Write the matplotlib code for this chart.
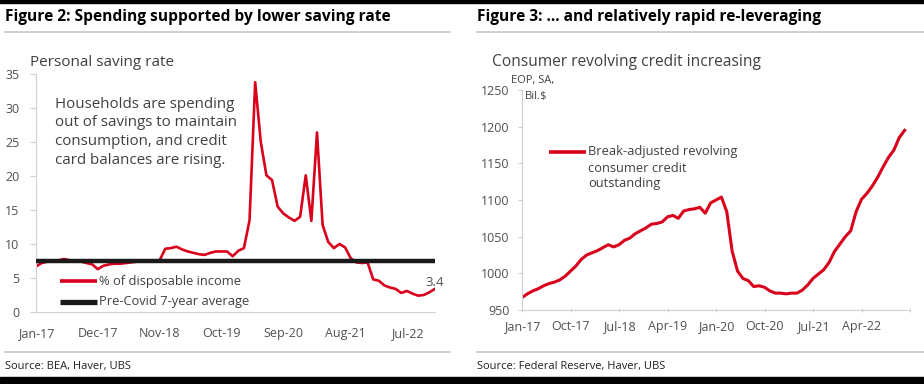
import matplotlib
matplotlib.use("Agg")
import matplotlib.pyplot as plt
from matplotlib.lines import Line2D

plt.rcParams['font.family'] = ['Open Sans', 'DejaVu Sans']

# ---------------- data ----------------
# Figure 2: personal saving rate, monthly Jan-17 .. Dec-22 (% of disposable income)
saving_rate = [6.7, 7.2, 7.4, 7.5, 7.6, 7.8, 7.6, 7.5, 7.4, 7.2, 7.0, 6.3,
               6.8, 7.0, 7.1, 7.1, 7.2, 7.3, 7.4, 7.5, 7.4, 7.5, 7.6, 9.3,
               9.4, 9.6, 9.2, 8.9, 8.7, 8.5, 8.4, 8.7, 8.9, 8.9, 8.9, 8.2,
               9.0, 9.4, 13.5, 33.8, 25.0, 20.1, 19.4, 15.5, 14.5, 13.9, 13.4, 14.0,
               20.1, 13.4, 26.4, 12.8, 10.3, 9.4, 10.0, 9.5, 7.9, 7.3, 7.2, 7.3,
               4.8, 4.6, 3.9, 3.6, 3.4, 2.8, 3.1, 2.7, 2.4, 2.5, 2.9, 3.4]
pre_covid_avg = 7.5
left_ticks = [0, 11, 22, 33, 44, 55, 66]
left_tick_labels = ["Jan-17", "Dec-17", "Nov-18", "Oct-19", "Sep-20", "Aug-21", "Jul-22"]
left_yticks = [0, 5, 10, 15, 20, 25, 30, 35]
left_legend = ["% of disposable income", "Pre-Covid 7-year average"]
last_label = "3.4"

# Figure 3: revolving consumer credit, monthly Jan-17 .. Dec-22 (Bil. $)
revolving_credit = [967, 972, 976, 979, 983, 986, 988, 991, 996, 1003, 1010, 1019,
                    1025, 1028, 1031, 1035, 1039, 1036, 1039, 1045, 1048, 1054, 1058, 1062,
                    1067, 1068, 1070, 1077, 1079, 1075, 1085, 1087, 1088, 1090, 1082, 1096,
                    1100, 1104, 1084, 1030, 1003, 993, 990, 982, 983, 981, 976, 973,
                    973, 972, 973, 973, 977, 984, 993, 999, 1005, 1015, 1030, 1040,
                    1050, 1058, 1084, 1101, 1109, 1119, 1131, 1145, 1158, 1168, 1185, 1195]
right_ticks = [0, 9, 18, 27, 36, 45, 54, 63, 72]
right_tick_labels = ["Jan-17", "Oct-17", "Jul-18", "Apr-19", "Jan-20", "Oct-20", "Jul-21", "Apr-22", ""]
right_yticks = [950, 1000, 1050, 1100, 1150, 1200, 1250]
right_legend = ["Break-adjusted revolving", "consumer credit", "outstanding"]

RED = "#D9001C"
BLACK = "#1A1A1A"
TXT = "#404040"
TICK = "#505050"
GRID = "#D0D0D0"

W, H = 924, 384
fig = plt.figure(figsize=(W / 100, H / 100), dpi=100)
fig.patch.set_facecolor("white")

def px(x0, y0, x1, y1):
    return [x0 / W, 1 - y1 / H, (x1 - x0) / W, (y1 - y0) / H]

def style_axes(ax):
    for s in ["top", "right"]:
        ax.spines[s].set_visible(False)
    for s in ["left", "bottom"]:
        ax.spines[s].set_color(GRID)
        ax.spines[s].set_linewidth(0.8)
    ax.tick_params(axis="both", colors=GRID, labelcolor=TICK, labelsize=9, length=4, width=0.8)

# ---------- left panel ----------
L = (36, 74, 435, 312)
axL = fig.add_axes(px(*L))
style_axes(axL)
months = list(range(len(saving_rate)))
axL.plot(months, saving_rate, color=RED, lw=1.9, zorder=2, solid_joinstyle="round")
axL.plot(months, [pre_covid_avg] * len(months), color=BLACK, lw=3.2, zorder=3)
axL.set_xlim(0, len(months) - 1)
axL.set_ylim(0, 35)
axL.set_yticks(left_yticks)
axL.set_xticks(left_ticks)
axL.set_xticklabels(left_tick_labels)
axL.tick_params(axis="x", length=0, pad=11)
axL.tick_params(axis="y", pad=8)
axL.annotate(last_label, (months[-1], saving_rate[-1]), xytext=(0, 4.5),
             textcoords="offset points", ha="center", va="center", fontsize=9.5, color=TICK)
axL.text(0.048, 0.905, "Households are spending\nout of savings to maintain\nconsumption, and credit\ncard balances are rising.",
         transform=axL.transAxes, ha="left", va="top", fontsize=10.9, color=TXT, linespacing=1.33)

def ax_frac(ax_box, x, y):
    x0, y0, x1, y1 = ax_box
    return (x - x0) / (x1 - x0), (y1 - y) / (y1 - y0)

for lbl, col, lw, ypix in [(left_legend[0], RED, 2.6, 281), (left_legend[1], BLACK, 3.8, 302)]:
    xa, ya = ax_frac(L, 60, ypix)
    xb, _ = ax_frac(L, 97, ypix)
    xt, _ = ax_frac(L, 99, ypix)
    axL.add_line(Line2D([xa, xb], [ya, ya], transform=axL.transAxes, color=col, lw=lw,
                        clip_on=False, solid_capstyle="butt"))
    axL.text(xt, ya, lbl, transform=axL.transAxes, ha="left", va="center", fontsize=9.3, color=TXT)

# ---------- right panel ----------
R = (522, 90, 910, 310)
axR = fig.add_axes(px(*R))
style_axes(axR)
mR = list(range(len(revolving_credit)))
axR.plot(mR, revolving_credit, color=RED, lw=2.2, solid_joinstyle="round")
axR.set_xlim(0, 72)
axR.set_ylim(950, 1250)
axR.set_yticks(right_yticks)
axR.set_xticks(right_ticks)
axR.set_xticklabels(right_tick_labels)
axR.tick_params(axis="x", length=3, pad=6, direction="inout")
axR.tick_params(axis="y", pad=6, length=3)

xa, ya = ax_frac(R, 549, 152)
xb, _ = ax_frac(R, 586, 152)
axR.add_line(Line2D([xa, xb], [ya, ya], transform=axR.transAxes, color=RED, lw=2.6,
                    clip_on=False, solid_capstyle="butt"))
for i, lbl in enumerate(right_legend):
    xt, yt = ax_frac(R, 588, 152 + 16 * i)
    axR.text(xt, yt, lbl, transform=axR.transAxes, ha="left", va="center", fontsize=9.3, color=TXT)

# ---------- titles, rules, sources ----------
fig.text(5 / W, 1 - 17 / H, "Figure 2: Spending supported by lower saving rate",
         fontsize=11.2, fontweight="bold", color="#000000", ha="left", va="center")
fig.text(477 / W, 1 - 17 / H, "Figure 3: \u2026 and relatively rapid re-leveraging",
         fontsize=11.2, fontweight="bold", color="#000000", ha="left", va="center")
fig.text(30 / W, 1 - 62 / H, "Personal saving rate", fontsize=11, color=TXT, ha="left", va="center")
fig.text(492 / W, 1 - 62 / H, "Consumer revolving credit increasing", fontsize=11.2, color=TXT, ha="left", va="center")
fig.text(533 / W, 1 - 80 / H, "EOP, SA,", fontsize=8, color=TXT, ha="center", va="center")
fig.text(536 / W, 1 - 96 / H, "Bil.$", fontsize=8, color=TXT, ha="center", va="center")

for (x0, x1) in [(5, 450), (477, 924)]:
    fig.add_artist(Line2D([x0 / W, x1 / W], [1 - 32 / H] * 2, color="#C8C8C8", lw=1.2))
    fig.add_artist(Line2D([x0 / W, x1 / W], [1 - 352 / H] * 2, color="#C8C8C8", lw=1.2))

fig.text(5 / W, 1 - 367 / H, "Source: BEA, Haver, UBS", fontsize=8,
         color="#202020", ha="left", va="center")
fig.text(477 / W, 1 - 367 / H, "Source: Federal Reserve, Haver, UBS", fontsize=8,
         color="#202020", ha="left", va="center")

# black frame bands (screenshot borders)
fig.add_artist(plt.Rectangle((0, 1 - 3 / H), 1, 3 / H, transform=fig.transFigure, color="black"))
fig.add_artist(plt.Rectangle((0, 0), 1, 7 / H, transform=fig.transFigure, color="black"))

fig.savefig("out.png", dpi=100)
